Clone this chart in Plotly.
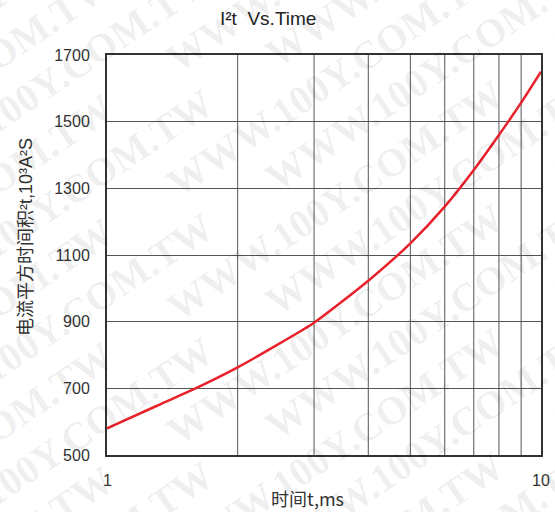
import math
import plotly.graph_objects as go

# I²t versus time data
time_ms = [1, 1.3, 1.6, 2, 2.5, 3, 4, 5, 6, 7, 8, 9, 10]
i2t_values = [580, 647, 700, 763, 835, 897, 1023, 1135, 1245, 1355, 1460, 1557, 1650]

x_tickvals = [1, 10]
x_ticktext = ["1", "10"]
x_minor_grid = [2, 3, 4, 5, 6, 7, 8, 9]
y_tickvals = [500, 700, 900, 1100, 1300, 1500, 1700]

W, H = 555, 512
L, R, T, B = 107, 14, 55, 57
PW, PH = W - L - R, H - T - B


def px_to_paper(px, py):
    return (px - L) / PW, (H - B - py) / PH


fig = go.Figure()
fig.add_trace(go.Scatter(
    x=time_ms, y=i2t_values, mode="lines",
    line=dict(color="#e8212b", width=2.5, shape="spline", smoothing=0.6),
    hoverinfo="x+y", showlegend=False,
))

# vertical grid lines at the intermediate decades
shapes = [
    dict(type="line", xref="x", yref="paper", x0=v, x1=v, y0=0, y1=1,
         line=dict(color="#555", width=1), layer="below")
    for v in x_minor_grid
]

annotations = []

# tiled diagonal background stamp
ang = math.radians(34)
ux, uy = math.cos(ang), -math.sin(ang)
for row in range(-7, 9):
    for k in range(-2, 3):
        along = k * 470 + (row % 2) * 120
        cx = 335 + along * ux
        cy = 200 + row * 62 + along * uy
        if -250 < cx < W + 250 and -200 < cy < H + 200:
            xp, yp = px_to_paper(cx, cy)
            annotations.append(dict(
                text="WWW.100Y.COM.TW", x=xp, y=yp, xref="paper", yref="paper",
                showarrow=False, textangle=-34,
                font=dict(family="Liberation Serif", size=40, weight="bold",
                          color="rgba(0,0,0,0.07)"),
                xanchor="center", yanchor="middle",
            ))

# x tick labels, placed on the log axis
_, y_lab = px_to_paper(0, 480)
for v, t in zip(x_tickvals, x_ticktext):
    annotations.append(dict(
        text=t, x=math.log10(v), y=y_lab, xref="x", yref="paper",
        showarrow=False, xanchor="center", yanchor="middle",
        font=dict(family="Liberation Sans, Arial", size=16, color="#333"),
    ))

xp, yp = px_to_paper(268, 19)
annotations.append(dict(
    text="I²t  Vs.Time", x=xp, y=yp, xref="paper", yref="paper",
    showarrow=False, xanchor="center", yanchor="middle",
    font=dict(family="Liberation Sans, Arial", size=19, color="#222"),
))
xp, yp = px_to_paper(307, 498)
annotations.append(dict(
    text="时间t,ms", x=xp, y=yp, xref="paper", yref="paper",
    showarrow=False, xanchor="center", yanchor="middle",
    font=dict(family="Noto Sans CJK SC, Liberation Sans", size=18, color="#333"),
))
xp, yp = px_to_paper(26, 237)
annotations.append(dict(
    text="电流平方时间积²t,10³A²S",
    x=xp, y=yp, xref="paper", yref="paper", textangle=-90,
    showarrow=False, xanchor="center", yanchor="middle",
    font=dict(family="Liberation Sans, Noto Sans CJK SC", size=18, color="#333"),
))

fig.update_layout(
    width=W, height=H,
    margin=dict(l=L, r=R, t=T, b=B),
    paper_bgcolor="white", plot_bgcolor="white",
    annotations=annotations,
    shapes=shapes,
    xaxis=dict(
        type="log", range=[0, 1],
        tickvals=x_tickvals, showticklabels=False,
        showgrid=True, gridcolor="#555", gridwidth=1,
        showline=True, linecolor="#333", linewidth=2, mirror=True,
        ticks="", zeroline=False,
    ),
    yaxis=dict(
        range=[500, 1700], tickvals=y_tickvals,
        showgrid=True, gridcolor="#555", gridwidth=1,
        showline=True, linecolor="#333", linewidth=2, mirror=True,
        ticks="", ticklabelstandoff=12,
        tickfont=dict(family="Liberation Sans, Arial", size=16, color="#333"),
        zeroline=False,
    ),
)

fig.write_html("out.html")
